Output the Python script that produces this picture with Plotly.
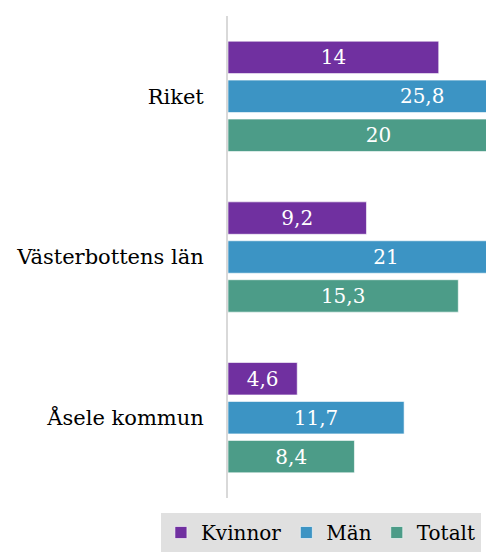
import plotly.graph_objects as go

categories = ["Riket", "Västerbottens län", "Åsele kommun"]
kvinnor = [14, 9.2, 4.6]
man = [25.8, 21, 11.7]
totalt = [20, 15.3, 8.4]
series_names = ["Kvinnor", "Män", "Totalt"]
colors = ["#7030A0", "#3C94C4", "#4C9C88"]

FONT = "DejaVu Serif"

def fmt(v):
    s = ("%g" % v)
    return s.replace(".", ",")

fig = go.Figure()
for name, vals, col in zip(series_names, [kvinnor, man, totalt], colors):
    fig.add_trace(go.Bar(
        y=categories, x=vals, name=name, orientation="h",
        marker=dict(color=col, line=dict(color="rgba(255,255,255,0.6)", width=1)),
        text=[fmt(v) for v in vals],
        textposition="inside", insidetextanchor="middle", textangle=0,
        textfont=dict(color="white", size=20, family=FONT),
        cliponaxis=True,
    ))

fig.update_layout(
    width=486, height=552,
    margin=dict(l=228, r=0, t=16, b=53),
    barmode="group", bargap=0.273, bargroupgap=0.167,
    plot_bgcolor="white", paper_bgcolor="white",
    font=dict(family=FONT, size=21, color="black"),
    showlegend=True,
    legend=dict(orientation="h", x=-0.26, xanchor="left", y=-0.112, yanchor="bottom",
                bgcolor="#E0E0E0", font=dict(size=20, family=FONT),
                traceorder="normal", itemwidth=30, tracegroupgap=0),
    uniformtext=dict(mode="show", minsize=10),
)
fig.update_xaxes(range=[0, 17.14], showgrid=False, zeroline=False, showticklabels=False,
                 showline=False, fixedrange=True)
fig.update_yaxes(autorange="reversed", showgrid=False, showline=True, linecolor="#D9D9D9",
                 linewidth=2, ticks="", ticklabelstandoff=18, tickfont=dict(size=21, family=FONT))

fig.write_html("out.html", config={"displayModeBar": False},
               post_script="document.body.style.margin='0';document.body.style.overflow='hidden';")
